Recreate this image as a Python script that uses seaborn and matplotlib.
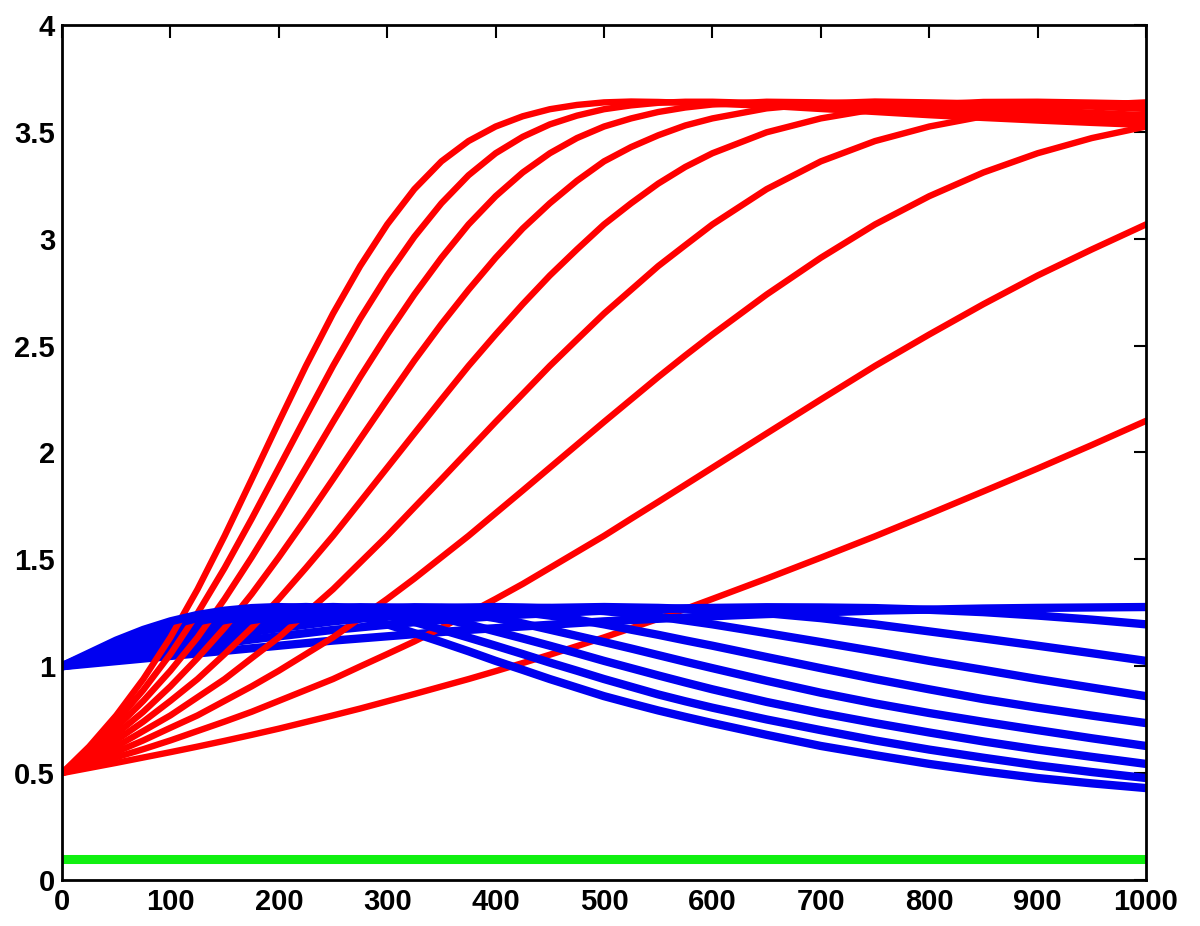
import numpy as np
import pandas as pd
import matplotlib
matplotlib.use("Agg")
import matplotlib.pyplot as plt
import seaborn as sns

# time axis shared by every curve (finer where the curves bend)
t = [0, 25, 50, 75, 100, 125, 150, 175, 200, 225, 250, 275, 300, 325, 350, 375,
     400, 425, 450, 475, 500, 525, 550, 575, 600,
     650, 700, 750, 800, 850, 900, 950, 1000]

# red curves, slowest first
red_02 = [0.500, 0.524, 0.548, 0.573, 0.598, 0.624, 0.651, 0.679, 0.708, 0.739, 0.770, 0.802,
          0.836, 0.870, 0.905, 0.940, 0.977, 1.015, 1.054, 1.094, 1.135, 1.178, 1.222, 1.268,
          1.315, 1.410, 1.508, 1.608, 1.712, 1.818, 1.925, 2.035, 2.148]
red_03 = [0.500, 0.537, 0.574, 0.612, 0.653, 0.697, 0.741, 0.787, 0.838, 0.889, 0.940, 0.999,
          1.057, 1.116, 1.180, 1.248, 1.315, 1.385, 1.460, 1.535, 1.610, 1.690, 1.769, 1.849,
          1.929, 2.089, 2.248, 2.405, 2.552, 2.694, 2.828, 2.950, 3.067]
red_04 = [0.500, 0.550, 0.599, 0.653, 0.712, 0.770, 0.838, 0.906, 0.979, 1.057, 1.135, 1.225,
          1.315, 1.410, 1.510, 1.610, 1.716, 1.822, 1.929, 2.036, 2.143, 2.248, 2.353, 2.454,
          2.552, 2.739, 2.911, 3.067, 3.199, 3.310, 3.400, 3.471, 3.525]
red_05 = [0.500, 0.562, 0.624, 0.697, 0.770, 0.855, 0.940, 1.038, 1.135, 1.248, 1.360, 1.485,
          1.610, 1.743, 1.875, 2.009, 2.143, 2.274, 2.405, 2.528, 2.650, 2.761, 2.872, 2.970,
          3.067, 3.232, 3.362, 3.457, 3.525, 3.573, 3.606, 3.626, 3.638]
red_06 = [0.500, 0.574, 0.653, 0.741, 0.838, 0.940, 1.057, 1.180, 1.315, 1.460, 1.610, 1.769,
          1.929, 2.089, 2.248, 2.405, 2.552, 2.694, 2.828, 2.950, 3.067, 3.166, 3.258, 3.336,
          3.400, 3.498, 3.563, 3.606, 3.628, 3.640, 3.641, 3.637, 3.632]
red_07 = [0.500, 0.587, 0.682, 0.787, 0.906, 1.038, 1.180, 1.338, 1.510, 1.690, 1.875, 2.063,
          2.248, 2.430, 2.601, 2.761, 2.911, 3.048, 3.166, 3.271, 3.362, 3.429, 3.484, 3.530,
          3.563, 3.610, 3.633, 3.642, 3.638, 3.633, 3.626, 3.618, 3.607]
red_08 = [0.500, 0.599, 0.712, 0.838, 0.979, 1.135, 1.315, 1.510, 1.716, 1.929, 2.143, 2.353,
          2.552, 2.739, 2.911, 3.067, 3.199, 3.310, 3.400, 3.471, 3.525, 3.563, 3.593, 3.614,
          3.628, 3.641, 3.638, 3.632, 3.624, 3.613, 3.601, 3.590, 3.578]
red_09 = [0.500, 0.612, 0.741, 0.889, 1.057, 1.248, 1.460, 1.690, 1.929, 2.169, 2.405, 2.626,
          2.828, 3.009, 3.166, 3.297, 3.400, 3.477, 3.535, 3.576, 3.606, 3.624, 3.636, 3.641,
          3.641, 3.634, 3.626, 3.615, 3.601, 3.589, 3.575, 3.564, 3.553]
red_10 = [0.500, 0.624, 0.770, 0.940, 1.135, 1.360, 1.610, 1.875, 2.143, 2.405, 2.650, 2.872,
          3.067, 3.232, 3.362, 3.457, 3.525, 3.573, 3.606, 3.626, 3.638, 3.642, 3.640, 3.636,
          3.632, 3.622, 3.607, 3.593, 3.578, 3.565, 3.553, 3.542, 3.532]

# blue curves, same order
blue_02 = [1.000, 1.012, 1.024, 1.036, 1.048, 1.060, 1.072, 1.084, 1.096, 1.108, 1.120, 1.130,
           1.140, 1.150, 1.160, 1.170, 1.178, 1.186, 1.194, 1.202, 1.210, 1.216, 1.222, 1.228,
           1.234, 1.244, 1.252, 1.260, 1.265, 1.270, 1.273, 1.275, 1.277]
blue_03 = [1.000, 1.018, 1.036, 1.054, 1.072, 1.090, 1.108, 1.125, 1.140, 1.155, 1.170, 1.182,
           1.194, 1.206, 1.216, 1.225, 1.234, 1.242, 1.248, 1.254, 1.260, 1.264, 1.267, 1.271,
           1.273, 1.276, 1.275, 1.272, 1.264, 1.253, 1.237, 1.218, 1.196]
blue_04 = [1.000, 1.024, 1.048, 1.072, 1.096, 1.120, 1.140, 1.160, 1.178, 1.194, 1.210, 1.222,
           1.234, 1.244, 1.252, 1.260, 1.265, 1.270, 1.273, 1.275, 1.277, 1.275, 1.273, 1.269,
           1.264, 1.248, 1.225, 1.196, 1.163, 1.130, 1.096, 1.061, 1.025]
blue_05 = [1.000, 1.030, 1.060, 1.090, 1.120, 1.145, 1.170, 1.190, 1.210, 1.225, 1.240, 1.250,
           1.260, 1.266, 1.272, 1.275, 1.277, 1.275, 1.272, 1.265, 1.258, 1.245, 1.232, 1.214,
           1.196, 1.155, 1.113, 1.070, 1.025, 0.983, 0.940, 0.900, 0.860]
blue_06 = [1.000, 1.036, 1.072, 1.108, 1.140, 1.170, 1.194, 1.216, 1.234, 1.248, 1.260, 1.267,
           1.273, 1.276, 1.275, 1.272, 1.264, 1.253, 1.237, 1.218, 1.196, 1.171, 1.147, 1.121,
           1.096, 1.043, 0.991, 0.940, 0.892, 0.846, 0.806, 0.769, 0.734]
blue_07 = [1.000, 1.042, 1.084, 1.125, 1.160, 1.190, 1.216, 1.237, 1.252, 1.264, 1.272, 1.276,
           1.275, 1.271, 1.261, 1.245, 1.225, 1.200, 1.171, 1.142, 1.113, 1.083, 1.052, 1.021,
           0.991, 0.932, 0.876, 0.826, 0.781, 0.740, 0.701, 0.663, 0.627]
blue_08 = [1.000, 1.048, 1.096, 1.140, 1.178, 1.210, 1.234, 1.252, 1.265, 1.273, 1.277, 1.273,
           1.264, 1.248, 1.225, 1.196, 1.163, 1.130, 1.096, 1.061, 1.025, 0.991, 0.957, 0.924,
           0.892, 0.833, 0.781, 0.734, 0.690, 0.648, 0.610, 0.576, 0.543]
blue_09 = [1.000, 1.054, 1.108, 1.155, 1.194, 1.225, 1.248, 1.264, 1.273, 1.277, 1.272, 1.259,
           1.237, 1.207, 1.171, 1.134, 1.096, 1.057, 1.017, 0.979, 0.940, 0.904, 0.868, 0.836,
           0.806, 0.751, 0.701, 0.653, 0.610, 0.572, 0.536, 0.505, 0.477]
blue_10 = [1.000, 1.060, 1.120, 1.170, 1.210, 1.240, 1.260, 1.272, 1.277, 1.272, 1.258, 1.232,
           1.196, 1.155, 1.113, 1.070, 1.025, 0.983, 0.940, 0.900, 0.860, 0.826, 0.793, 0.763,
           0.734, 0.679, 0.627, 0.584, 0.543, 0.508, 0.477, 0.452, 0.430]

green_x = [0, 1000]
green_y = [0.1, 0.1]

reds = [red_02, red_03, red_04, red_05, red_06, red_07, red_08, red_09, red_10]
blues = [blue_02, blue_03, blue_04, blue_05, blue_06, blue_07, blue_08, blue_09, blue_10]

sns.set_theme(style="white")
plt.rcParams["font.family"] = ["Liberation Sans", "DejaVu Sans"]

fig = plt.figure(figsize=(12, 9.26), dpi=100)
ax = fig.add_axes([0.0517, 0.0497, 0.9033, 0.9233])

# red then blue for each rate, so the faster blues end up on top
for r, b in zip(reds, blues):
    sns.lineplot(x=t, y=r, color="#ff0000", lw=4.6, estimator=None, ax=ax)
    sns.lineplot(x=t, y=b, color="#0000f0", lw=6.0, estimator=None, ax=ax)

sns.lineplot(x=green_x, y=green_y, color="#10f010", lw=6.5, estimator=None, ax=ax)

ax.set_xlim(0, 1000)
ax.set_ylim(0, 4)
ax.set_xticks(range(0, 1001, 100))
ax.set_yticks([0, 0.5, 1, 1.5, 2, 2.5, 3, 3.5, 4])
ax.set_yticklabels(["0", "0.5", "1", "1.5", "2", "2.5", "3", "3.5", "4"])
ax.tick_params(direction="in", length=9, width=1.5, top=True, right=True,
               labelsize=21, colors="black")
ax.tick_params(axis="y", pad=5)
ax.tick_params(axis="x", pad=6)
for lab in ax.get_xticklabels() + ax.get_yticklabels():
    lab.set_fontweight("bold")
for s in ax.spines.values():
    s.set_color("black")
    s.set_linewidth(2)

fig.savefig("out.png", dpi=100, facecolor="white")
